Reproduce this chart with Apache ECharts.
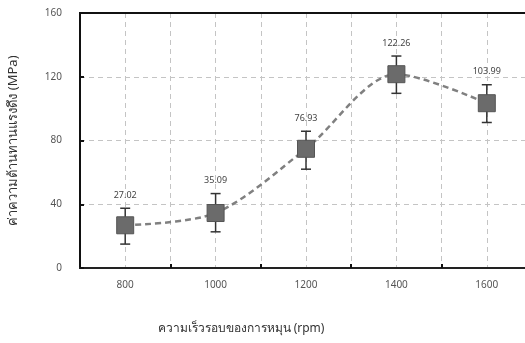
<!DOCTYPE html>
<html>
<head>
<meta charset="utf-8">
<script src="https://cdn.jsdelivr.net/npm/echarts@6/dist/echarts.min.js"></script>
<style>
  html, body { margin: 0; padding: 0; background: #fff; }
  #chart { width: 525px; height: 343px; }
</style>
</head>
<body>
<div id="chart"></div>
<script>
// speed (rpm) and tensile strength (MPa)
const speeds = [800, 1000, 1200, 1400, 1600];
const strength = [26.8, 34.5, 74.8, 121.6, 103.4];
const upperErr = [37.5, 46.7, 85.8, 133, 115];
const lowerErr = [15, 22.7, 62, 109.6, 91.3];
const valueLabels = ['27.02', '35.09', '76.93', '122.26', '103.99'];
const xCatTicks = [900, 1100, 1300, 1500];

const FONT = '"Noto Sans", "DejaVu Sans", sans-serif';

let myChart = echarts.init(document.getElementById('chart'));

const errData = speeds.map((s, i) => [s, lowerErr[i], upperErr[i]]);
const dashed = { color: '#c4c4c4', type: [5, 4], width: 1 };

const options = {
  animation: false,
  grid: {
    left: 80, top: 13, width: 452, height: 255,
    outerBoundsMode: 'none',
    show: true, borderColor: '#111', borderWidth: 2
  },
  xAxis: [{
    type: 'value',
    min: 700, max: 1700, interval: 100,
    name: 'ความเร็วรอบของการหมุน (rpm)',
    nameLocation: 'middle',
    nameGap: 55,
    nameTextStyle: { color: '#333', fontSize: 12, fontFamily: FONT, padding: [0, 130, 0, 0] },
    axisLine: { lineStyle: { color: '#222', width: 2 } },
    axisTick: { show: false },
    axisLabel: {
      color: '#555', fontSize: 10, fontFamily: FONT, margin: 12,
      formatter: v => speeds.includes(v) ? String(v) : ''
    },
    splitLine: { show: true, lineStyle: dashed }
  }, {
    type: 'value',
    position: 'bottom',
    min: 700, max: 1700,
    axisLine: { show: false },
    axisLabel: { show: false },
    splitLine: { show: false },
    axisTick: { show: true, inside: true, length: 4, customValues: xCatTicks, lineStyle: { color: '#111', width: 2 } }
  }, {
    // top frame line drawn over the dashed grid line at 160
    type: 'value',
    position: 'top',
    min: 700, max: 1700,
    axisLine: { show: true, lineStyle: { color: '#111', width: 2 } },
    axisLabel: { show: false },
    axisTick: { show: false },
    splitLine: { show: false }
  }],
  yAxis: {
    type: 'value',
    min: 0, max: 160, interval: 40,
    name: 'ค่าความต้านทานแรงดึง (MPa)',
    nameLocation: 'middle',
    nameGap: 60,
    nameTextStyle: { color: '#333', fontSize: 13, fontFamily: FONT },
    axisLine: { show: true, lineStyle: { color: '#111', width: 2 } },
    axisTick: { show: true, inside: true, length: 4, lineStyle: { color: '#111', width: 2 } },
    axisLabel: { color: '#555', fontSize: 10, fontFamily: FONT, margin: 18 },
    splitLine: { show: true, lineStyle: dashed }
  },
  series: [{
    type: 'line',
    data: speeds.map((s, i) => [s, strength[i]]),
    smooth: 0.3,
    lineStyle: { color: '#808080', width: 2.5, type: [6, 4] },
    symbol: 'none',
    z: 2
  }, {
    type: 'custom',
    data: errData,
    z: 3,
    renderItem: function (params, api) {
      const x = api.coord([api.value(0), api.value(1)])[0];
      const yLow = api.coord([api.value(0), api.value(1)])[1];
      const yHigh = api.coord([api.value(0), api.value(2)])[1];
      const cap = 5;
      const st = { stroke: '#333', lineWidth: 1.5 };
      return {
        type: 'group',
        children: [
          { type: 'line', shape: { x1: x, y1: yLow, x2: x, y2: yHigh }, style: st },
          { type: 'line', shape: { x1: x - cap, y1: yLow, x2: x + cap, y2: yLow }, style: st },
          { type: 'line', shape: { x1: x - cap, y1: yHigh, x2: x + cap, y2: yHigh }, style: st },
          {
            type: 'text',
            style: {
              text: valueLabels[params.dataIndex], x: x, y: yHigh - 13,
              align: 'center', verticalAlign: 'middle',
              fill: '#444', fontSize: 9, fontFamily: FONT
            }
          }
        ]
      };
    }
  }, {
    type: 'scatter',
    data: speeds.map((s, i) => [s, strength[i]]),
    symbol: 'rect',
    symbolSize: 17,
    itemStyle: { color: '#6b6b6b', borderColor: '#555', borderWidth: 1, opacity: 1 },
    z: 4
  }]
};

myChart.setOption(options);
</script>
</body>
</html>
